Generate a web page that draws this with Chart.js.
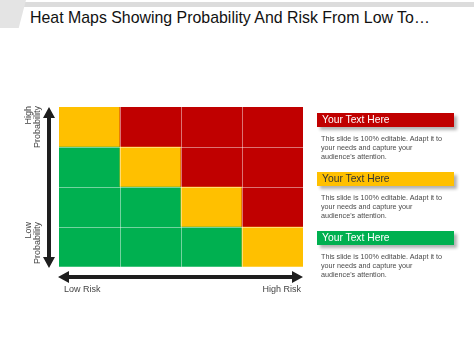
<!DOCTYPE html>
<html>
<head>
<meta charset="utf-8">
<script src="https://cdn.jsdelivr.net/npm/chart.js@4.4.0/dist/chart.umd.min.js"></script>
<style>
  html, body { margin: 0; padding: 0; background: #fff; }
  body { width: 474px; height: 355px; position: relative; overflow: hidden; font-family: 'Liberation Sans', Arial, sans-serif; }
  #strip { position: absolute; left: 0; top: 2px; width: 474px; height: 5px; background: #dcdcdc; }
  #tab { position: absolute; left: 0; top: 0; width: 26px; height: 28px; background: #e4e4e4; clip-path: polygon(0 0, 100% 0, 72% 100%, 0 100%); }
  #title { position: absolute; left: 30px; top: 9px; font-size: 15.9px; color: #111; white-space: nowrap; }
  #chart-wrap { position: absolute; left: 0; top: 0; width: 474px; height: 355px; }
  .note { position: absolute; left: 317px; width: 137px; }
  .note .head { height: 14px; line-height: 14px; font-size: 10.3px; padding-left: 5px; box-shadow: 3px 3px 3px rgba(0,0,0,0.3); }
  .note .body { margin-top: 7px; padding-left: 4px; font-size: 7.2px; line-height: 9px; color: #4a4a4a; }
</style>
</head>
<body>
<div id="strip"></div>
<div id="tab"></div>
<div id="title">Heat Maps Showing Probability And Risk From Low To…</div>
<div id="chart-wrap"><canvas id="heat"></canvas></div>
<div id="notes"></div>

<script>
// ── Data ──
const riskCols = ['R1', 'R2', 'R3', 'R4'];          // low risk → high risk
const probRows = ['P1', 'P2', 'P3', 'P4'];          // low probability → high probability
const row1 = ['low', 'low', 'low', 'medium'];
const row2 = ['low', 'low', 'medium', 'high'];
const row3 = ['low', 'medium', 'high', 'high'];
const row4 = ['medium', 'high', 'high', 'high'];
const xLabels = ['Low Risk', 'High Risk'];
const yLabels = [['High', 'Probability'], ['Low', 'Probability']];
const noteTitles = ['Your Text Here', 'Your Text Here', 'Your Text Here'];
const noteLevels = ['high', 'medium', 'low'];
const noteLines = ['This slide is 100% editable. Adapt it to', 'your needs and capture your', "audience's attention."];

const levelColor = { low: '#00B050', medium: '#FFC000', high: '#C00000' };
const levelText = { low: '#fff', medium: '#333', high: '#fff' };

// ── Notes panel ──
const noteTops = [113, 172, 231];
document.getElementById('notes').innerHTML = noteTitles.map((t, i) => `
  <div class="note" style="top:${noteTops[i]}px">
    <div class="head" style="background:${levelColor[noteLevels[i]]};color:${levelText[noteLevels[i]]}">${t}</div>
    <div class="body">${noteLines.join('<br>')}</div>
  </div>`).join('');

// ── Arrows + axis labels ──
const arrowPlugin = {
  id: 'arrows',
  afterDraw(chart) {
    const { ctx, chartArea: a } = chart;
    const ax = a.left - 10, ay = a.bottom + 10;
    ctx.save();
    ctx.fillStyle = '#1e1e1e';
    // vertical shaft + heads
    ctx.fillRect(ax - 2, a.top + 8, 4, a.bottom - a.top - 16);
    ctx.beginPath();
    ctx.moveTo(ax, a.top); ctx.lineTo(ax - 6, a.top + 11); ctx.lineTo(ax + 6, a.top + 11); ctx.closePath();
    ctx.moveTo(ax, a.bottom + 1); ctx.lineTo(ax - 6, a.bottom - 10); ctx.lineTo(ax + 6, a.bottom - 10); ctx.closePath();
    ctx.fill();
    // horizontal shaft + heads
    ctx.fillRect(a.left + 8, ay - 2, a.right - a.left - 16, 4);
    ctx.beginPath();
    ctx.moveTo(a.left - 1, ay); ctx.lineTo(a.left + 10, ay - 6); ctx.lineTo(a.left + 10, ay + 6); ctx.closePath();
    ctx.moveTo(a.right, ay); ctx.lineTo(a.right - 11, ay - 6); ctx.lineTo(a.right - 11, ay + 6); ctx.closePath();
    ctx.fill();

    ctx.fillStyle = '#444';
    ctx.font = "9px 'Liberation Sans', Arial, sans-serif";
    ctx.textBaseline = 'middle';
    ctx.textAlign = 'left';
    ctx.fillText(xLabels[0], a.left + 5, a.bottom + 23);
    ctx.textAlign = 'right';
    ctx.fillText(xLabels[1], a.right - 2, a.bottom + 23);

    // rotated probability labels
    const tops = [a.top - 1, a.top + 115];
    yLabels.forEach((lines, i) => {
      ctx.save();
      ctx.translate(a.left - 30, tops[i]);
      ctx.rotate(-Math.PI / 2);
      ctx.textAlign = 'right';
      lines.forEach((l, j) => ctx.fillText(l, 0, j * 9));
      ctx.restore();
    });
    ctx.restore();
  }
};

// ── Heat map as stacked bars ──
const rows = [row1, row2, row3, row4];
const datasets = rows.map((r, i) => ({
  label: probRows[i],
  data: riskCols.map(() => 1),
  backgroundColor: r.map(l => levelColor[l]),
  borderWidth: 0,
  barPercentage: 1,
  categoryPercentage: 1
}));

const edge = (ctx, n) => (ctx.index === 0 || ctx.index === n) ? 'rgba(0,0,0,0)' : 'rgba(255,255,255,0.45)';

new Chart(document.getElementById('heat'), {
  type: 'bar',
  data: { labels: riskCols, datasets },
  options: {
    responsive: true,
    maintainAspectRatio: false,
    animation: false,
    layout: { padding: { left: 59, right: 171, top: 107, bottom: 88 } },
    plugins: { legend: { display: false }, tooltip: { enabled: false } },
    scales: {
      x: {
        stacked: true,
        ticks: { display: false },
        border: { display: false },
        grid: { offset: true, z: 1, drawTicks: false, lineWidth: 1, color: ctx => edge(ctx, riskCols.length) }
      },
      y: {
        stacked: true,
        min: 0, max: probRows.length,
        ticks: { display: false, stepSize: 1 },
        border: { display: false },
        grid: { z: 1, drawTicks: false, lineWidth: 1, color: ctx => edge(ctx, probRows.length) }
      }
    }
  },
  plugins: [arrowPlugin]
});
</script>
</body>
</html>
